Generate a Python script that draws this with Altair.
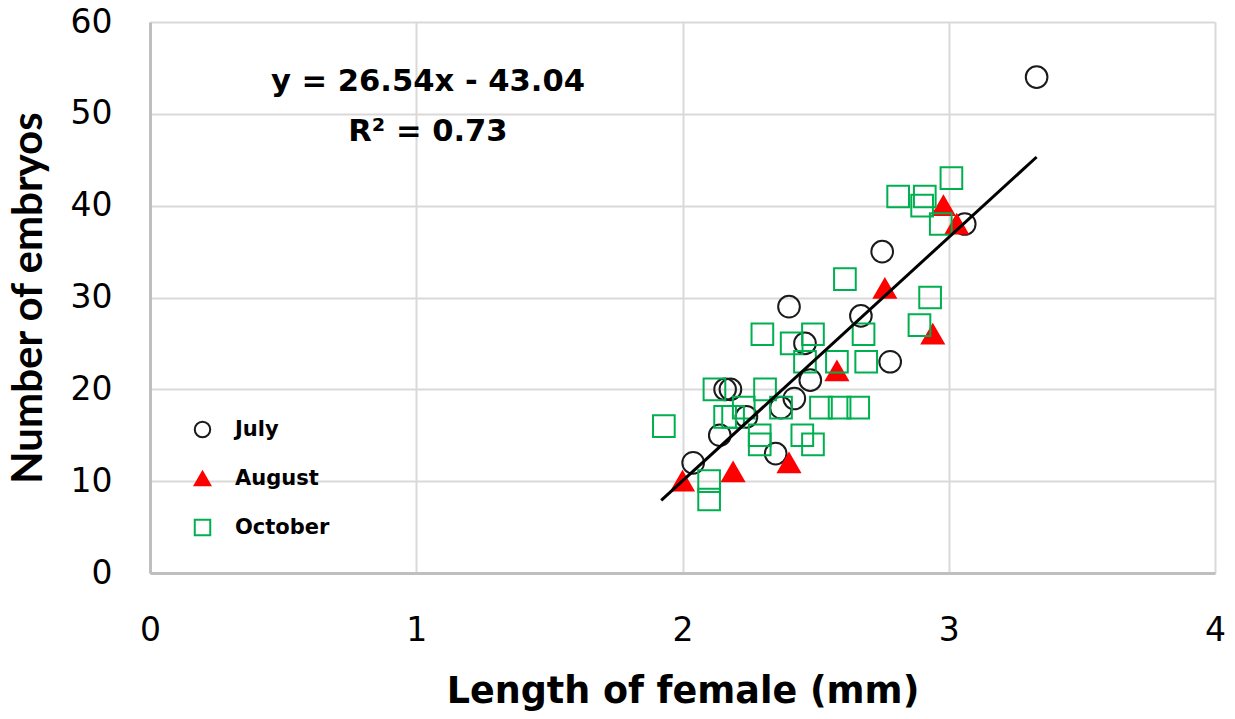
import altair as alt
import pandas as pd

months = ["July", "August", "October"]

july_x = [2.04, 2.14, 2.16, 2.18, 2.24, 2.35, 2.37, 2.40, 2.42, 2.46, 2.48, 2.67, 2.75, 2.78, 3.06, 3.33]
july_y = [12, 15, 20, 20, 17, 13, 18, 29, 19, 25, 21, 28, 35, 23, 38, 54]

aug_x = [2.00, 2.19, 2.40, 2.58, 2.76, 2.94, 2.98, 3.03]
aug_y = [10, 11, 12, 22, 31, 26, 40, 38]

oct_x = [3.01, 2.81, 2.91, 2.90, 2.97, 2.61, 2.93, 2.89, 2.30, 2.68, 2.49, 2.41, 2.46, 2.58, 2.69,
         2.12, 2.31, 2.23, 2.37, 2.52, 2.59, 2.66, 2.16, 2.19, 1.93, 2.29, 2.29, 2.45, 2.49, 2.10, 2.10]
oct_y = [43, 41, 41, 40, 38, 32, 30, 27, 26, 26, 26, 25, 23, 23, 23,
         20, 20, 18, 18, 18, 18, 18, 17, 17, 16, 15, 14, 15, 14, 10, 8]

trend_x = [1.92, 3.33]
trend_y = [7.9, 45.3]

x_ticks = [0, 1, 2, 3, 4]
y_ticks = [0, 10, 20, 30, 40, 50, 60]

equation = "y = 26.54x - 43.04"
r2 = "R² = 0.73"

pts = pd.DataFrame({
    "x": july_x + aug_x + oct_x,
    "y": july_y + aug_y + oct_y,
    "month": ["July"] * len(july_x) + ["August"] * len(aug_x) + ["October"] * len(oct_x),
})
trend = pd.DataFrame({"x": trend_x, "y": trend_y})
notes = pd.DataFrame({"x": [1.044, 1.044], "y": [53.5, 48.0], "t": [equation, r2]})

FONT = "DejaVu Sans"

xs = alt.Scale(domain=[0, 4], nice=False)
ys = alt.Scale(domain=[0, 60], nice=False)

x_enc = alt.X("x:Q", scale=xs, axis=alt.Axis(
    values=x_ticks, format="d", labelFlush=False, title="Length of female (mm)",
    labelPadding=41, titlePadding=26, titleFont=FONT, titleFontSize=36.5))
y_enc = alt.Y("y:Q", scale=ys, axis=alt.Axis(
    values=y_ticks, format="d", labelFlush=False, title="Number of embryos",
    labelPadding=38, titlePadding=20, titleFont="Lato", titleFontSize=42))

legend = alt.Legend(title=None, orient="none", legendX=42, legendY=397,
                    symbolSize=240, symbolStrokeWidth=2, labelFont=FONT,
                    labelFontWeight="bold", labelFontSize=21, labelColor="black",
                    rowPadding=25, labelOffset=22)

points = alt.Chart(pts).mark_point(size=470, strokeWidth=2, filled=False, opacity=1).encode(
    x=x_enc,
    y=y_enc,
    shape=alt.Shape("month:N", scale=alt.Scale(domain=months, range=["circle", "triangle-up", "square"]), legend=legend),
    stroke=alt.Stroke("month:N", scale=alt.Scale(domain=months, range=["#1a1a1a", "#ff0000", "#00b050"]), legend=legend),
    fill=alt.Fill("month:N", scale=alt.Scale(domain=months, range=["transparent", "#ff0000", "transparent"]), legend=legend),
)

line = alt.Chart(trend).mark_line(color="black", strokeWidth=3).encode(x="x:Q", y="y:Q")

text = alt.Chart(notes).mark_text(font=FONT, fontWeight="bold", fontSize=30.6, color="black",
                                  align="center", baseline="middle").encode(x="x:Q", y="y:Q", text="t:N")

chart = alt.layer(points, line, text).properties(
    width=1065, height=551,
    autosize=alt.AutoSizeParams(type="none"),
    padding={"left": 150, "top": 22, "right": 20, "bottom": 146},
).configure_view(stroke=None).configure_axis(
    grid=True, gridColor="#d9d9d9", gridWidth=2,
    domainColor="#bfbfbf", domainWidth=3, ticks=False,
    labelFont=FONT, labelFontSize=33, labelColor="black",
    titleFontWeight="bold", titleColor="black",
)

chart.save("out.html", embed_options={"renderer": "svg", "actions": False})
